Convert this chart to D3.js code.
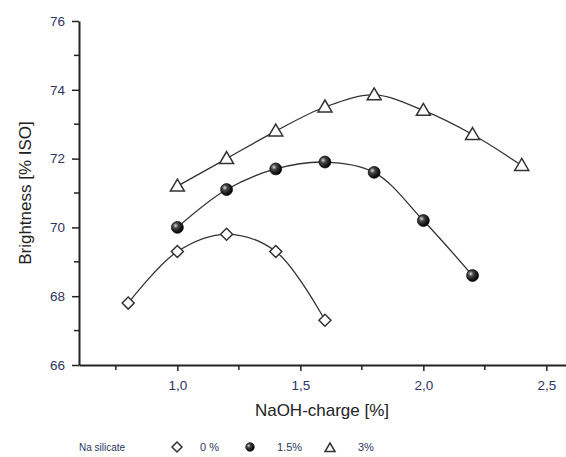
<!DOCTYPE html>
<html><head><meta charset="utf-8">
<script src="https://cdn.jsdelivr.net/npm/d3@7"></script>
<style>body{margin:0;background:#fff}svg{display:block}text{font-family:"Liberation Sans",Arial,sans-serif}</style>
</head><body><svg id="c" width="566" height="457"></svg>
<script>
const xTicks = [1.0, 1.5, 2.0, 2.5];
const xTickLabels = ["1,0", "1,5", "2,0", "2,5"];
const yTicks = [66, 68, 70, 72, 74, 76];
const s0x = [0.8, 1.0, 1.2, 1.4, 1.6];
const s0y = [67.8, 69.3, 69.8, 69.3, 67.3];
const s15x = [1.0, 1.2, 1.4, 1.6, 1.8, 2.0, 2.2];
const s15y = [70.0, 71.1, 71.7, 71.9, 71.6, 70.2, 68.6];
const s3x = [1.0, 1.2, 1.4, 1.6, 1.8, 2.0, 2.2, 2.4];
const s3y = [71.2, 72.0, 72.8, 73.5, 73.85, 73.4, 72.7, 71.8];
const legendTitle = "Na silicate";
const seriesNames = ["0 %", "1.5%", "3%"];

const svg = d3.select("#c");
const x = d3.scaleLinear().domain([0.6, 2.58]).range([79, 566]);
const y = d3.scaleLinear().domain([66, 76]).range([365, 21]);
const txtCol = "#2e3560";

const defs = svg.append("defs");
const g = defs.append("radialGradient").attr("id","ball").attr("cx","35%").attr("cy","35%").attr("r","65%");
g.append("stop").attr("offset","0%").attr("stop-color","#d8d8d8");
g.append("stop").attr("offset","35%").attr("stop-color","#444");
g.append("stop").attr("offset","100%").attr("stop-color","#000");

const xAxis = d3.axisBottom(x).tickValues(xTicks).tickFormat((d,i)=>xTickLabels[i]).tickSize(6).tickSizeOuter(0);
const gx = svg.append("g").attr("transform","translate(0,365)").call(xAxis);
const minorX = [0.75, 1.25, 1.75, 2.25];
gx.selectAll(".minor").data(minorX).enter().append("line")
  .attr("x1",d=>x(d)).attr("x2",d=>x(d)).attr("y1",0).attr("y2",5).attr("stroke","#222").attr("stroke-width",1.5);
const yAxis = d3.axisLeft(y).tickValues(yTicks).tickSize(7).tickSizeOuter(0);
const gy = svg.append("g").attr("transform","translate(79,0)").call(yAxis);
const minorY = [67, 69, 71, 73, 75];
gy.selectAll(".minor").data(minorY).enter().append("line")
  .attr("y1",d=>y(d)).attr("y2",d=>y(d)).attr("x1",0).attr("x2",-5).attr("stroke","#222").attr("stroke-width",1.5);
[gx, gy].forEach(a=>{
  a.select(".domain").attr("stroke","#222").attr("stroke-width",2);
  a.selectAll(".tick line").attr("stroke","#222").attr("stroke-width",1.5);
  a.selectAll(".tick text").attr("fill",txtCol).attr("font-size",13.5);
});
gx.selectAll(".tick text").attr("dy","1.2em");
gy.selectAll(".tick text").attr("dx","-0.3em");

svg.append("text").attr("x",322).attr("y",416).attr("text-anchor","middle").attr("font-size",17).attr("fill","#222").text("NaOH-charge [%]");
svg.append("text").attr("transform","translate(31,193) rotate(-90)").attr("text-anchor","middle").attr("font-size",17).attr("fill","#222").text("Brightness [% ISO]");

const series = [
  {xs:s0x, ys:s0y, type:"diamond"},
  {xs:s15x, ys:s15y, type:"ball"},
  {xs:s3x, ys:s3y, type:"tri"}
];
const line = d3.line().x(d=>x(d[0])).y(d=>y(d[1])).curve(d3.curveCatmullRom.alpha(0.5));
function marker(sel, type, cx, cy, s){
  if(type==="diamond"){
    sel.append("path").attr("d",`M${cx},${cy-s}L${cx+s},${cy}L${cx},${cy+s}L${cx-s},${cy}Z`)
      .attr("fill","#fff").attr("stroke","#333").attr("stroke-width",1.5);
  } else if(type==="ball"){
    sel.append("circle").attr("cx",cx).attr("cy",cy).attr("r",s*0.85).attr("fill","url(#ball)").attr("stroke","#111").attr("stroke-width",0.8);
  } else {
    sel.append("path").attr("d",`M${cx},${cy-s}L${cx+s},${cy+s*0.7}L${cx-s},${cy+s*0.7}Z`)
      .attr("fill","#fff").attr("stroke","#333").attr("stroke-width",1.5);
  }
}
series.forEach(se=>{
  const pts = se.xs.map((v,i)=>[v, se.ys[i]]);
  svg.append("path").datum(pts).attr("d",line).attr("fill","none").attr("stroke","#333").attr("stroke-width",1.3);
  const mg = svg.append("g");
  pts.forEach(p=>marker(mg, se.type, x(p[0]), y(p[1]), se.type==="diamond"?6:7));
});

const ly = 447;
svg.append("text").attr("x",79).attr("y",ly+4).attr("font-size",10).attr("fill",txtCol).text(legendTitle);
const legX = [177, 250, 330];
const legTX = [200, 277, 358];
const types = ["diamond","ball","tri"];
types.forEach((t,i)=>{
  const lg = svg.append("g");
  marker(lg, t, legX[i], t==="tri"? ly+1 : ly, 5);
  svg.append("text").attr("x",legTX[i]).attr("y",ly+4).attr("font-size",11).attr("fill",txtCol).text(seriesNames[i]);
});
</script></body></html>
